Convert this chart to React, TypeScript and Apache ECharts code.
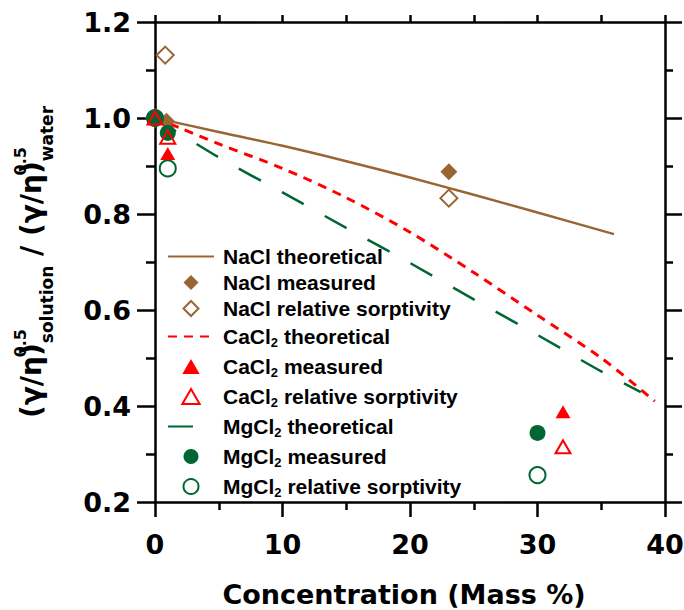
import React, { useEffect, useRef } from 'react';
import * as echarts from 'echarts';

// ---- data ----
const naclTheoX = [0, 5, 10, 15, 20, 25, 30, 36];
const naclTheoY = [1.0, 0.971, 0.942, 0.91, 0.876, 0.84, 0.803, 0.758];
const caTheoX = [0, 2, 5, 10, 15, 20, 25, 30, 35, 39.2];
const caTheoY = [1.0, 0.979, 0.946, 0.895, 0.834, 0.762, 0.678, 0.589, 0.5, 0.41];
const mgTheoX = [0, 5, 10, 15, 20, 25, 30, 35, 38.1];
const mgTheoY = [1.0, 0.918, 0.845, 0.771, 0.698, 0.622, 0.548, 0.472, 0.429];

const naclMeasuredX = [0.9, 23.05];
const naclMeasuredY = [0.993, 0.888];
const naclRelX = [0, 0.8, 23.05];
const naclRelY = [1.0, 1.131, 0.833];
const caMeasuredX = [1.0, 32.0];
const caMeasuredY = [0.926, 0.388];
const caRelX = [0, 1.0, 32.0];
const caRelY = [1.0, 0.96, 0.315];
const mgMeasuredX = [0, 1.0, 30.0];
const mgMeasuredY = [1.0, 0.969, 0.344];
const mgRelX = [0, 1.0, 30.0];
const mgRelY = [1.0, 0.895, 0.256];

const seriesNames = [
  'NaCl theoretical',
  'NaCl measured',
  'NaCl relative sorptivity',
  'CaCl2 theoretical',
  'CaCl2 measured',
  'CaCl2 relative sorptivity',
  'MgCl2 theoretical',
  'MgCl2 measured',
  'MgCl2 relative sorptivity',
];
const lineSeriesIdx = [0, 3, 6];

const xMin = 0, xMax = 40, xInterval = 10;
const yMin = 0.2, yMax = 1.2, yInterval = 0.2;

const BROWN = '#996633';
const RED = '#ff0000';
const GREEN = '#006633';

// legend icons (pixel-sized paths so the stroke is not scaled)
const DIAMOND_ICON = 'path://M7.5,0L15,7.5L7.5,15L0,7.5Z';
const TRIANGLE_ICON = 'path://M7.5,0L15,13L0,13Z';

const zip = (xs: number[], ys: number[]) => xs.map((x, i) => [x, ys[i]]);

const TICK_FONT = 'DejaVu Sans';
const LEG_FONT = 'Liberation Sans, Arial, sans-serif';

export default function App() {
  const ref = useRef<HTMLDivElement>(null);
  useEffect(() => {
    document.body.style.margin = '0';
    if (!ref.current) return;
    const chart = echarts.init(ref.current, undefined, { renderer: 'svg' });

    const legFont = { fontFamily: LEG_FONT, fontWeight: 'bold' as const, fontSize: 21, color: '#000' };
    const titleFont = { fontFamily: TICK_FONT, fontWeight: 'bold' as const, color: '#000' };

    const lineSeries = (name: string, xs: number[], ys: number[], color: string, width: number, type: any, z = 2) => ({
      name,
      type: 'line',
      data: zip(xs, ys),
      showSymbol: false,
      symbol: 'none',
      smooth: 0.3,
      color,
      lineStyle: { color, width, type },
      z,
    });
    const scatterSeries = (name: string, xs: number[], ys: number[], symbol: string, size: any, color: string, filled: boolean, z: number) => ({
      name,
      type: 'scatter',
      data: zip(xs, ys),
      symbol,
      symbolSize: size,
      color,
      itemStyle: filled
        ? { color, borderWidth: 0, opacity: 1 }
        : { color: 'rgba(0,0,0,0)', borderColor: color, borderWidth: 2, opacity: 1 },
      z,
    });

    const legendIcons: Record<number, string> = { 1: DIAMOND_ICON, 2: DIAMOND_ICON, 4: TRIANGLE_ICON, 5: TRIANGLE_ICON };

    const axisLine = { show: true, onZero: false, lineStyle: { color: '#000', width: 2.5 } };

    chart.setOption({
      animation: false,
      grid: { left: 155, right: 19, top: 22, bottom: 108, containLabel: false, outerBoundsMode: 'none' },
      legend: {
        orient: 'vertical',
        left: 167,
        top: 246,
        padding: 0,
        itemWidth: 46,
        itemHeight: 15,
        itemGap: 5,
        selectedMode: false,
        symbolKeepAspect: true,
        data: seriesNames.map((name, i) => {
          if (lineSeriesIdx.includes(i)) return { name, itemStyle: { opacity: 0 } };
          if (legendIcons[i]) return { name, icon: legendIcons[i] };
          return { name };
        }),
        itemStyle: { borderWidth: 'inherit' },
        formatter: (name: string) => {
          const m = name.match(/^(\w+?Cl)2(.*)$/);
          if (m) return `{p|${m[1]}}{s|2}{a|${m[2]}}`;
          return `{p|${name}}`;
        },
        textStyle: {
          ...legFont,
          rich: {
            p: { ...legFont, lineHeight: 16, padding: [0, 0, 0, 4] },
            a: { ...legFont, lineHeight: 16 },
            s: { ...legFont, fontSize: 13, lineHeight: 19.5, padding: [12, 0, 0, 0] },
          },
        },
      },
      xAxis: [
        {
          type: 'value',
          position: 'bottom',
          min: xMin,
          max: xMax,
          interval: xInterval,
          name: 'Concentration (Mass %)',
          nameLocation: 'middle',
          nameGap: 78,
          nameTextStyle: { ...titleFont, fontSize: 27, lineHeight: 28, padding: [0, 12, 0, 0] },
          axisLine,
          axisTick: { show: true, inside: false, length: 15, lineStyle: { color: '#000', width: 2.5 } },
          minorTick: { show: true, splitNumber: 2, length: 8, lineStyle: { color: '#000', width: 2.5 } },
          axisLabel: { show: true, margin: 29, fontFamily: TICK_FONT, fontWeight: 'bold', fontSize: 27, color: '#000' },
          splitLine: { show: false },
        },
        {
          type: 'value',
          position: 'top',
          min: xMin,
          max: xMax,
          interval: xInterval,
          axisLine,
          axisTick: { show: true, inside: false, length: 7, lineStyle: { color: '#000', width: 2.5 } },
          minorTick: { show: true, splitNumber: 2, length: 7, lineStyle: { color: '#000', width: 2.5 } },
          axisLabel: { show: false },
          splitLine: { show: false },
        },
      ],
      yAxis: [
        {
          type: 'value',
          position: 'left',
          min: yMin,
          max: yMax,
          interval: yInterval,
          name: '{m|(γ/η)}{sup|0.5}{sub|solution}{m| / (γ/η)}{sup|0.5}{sub|water}',
          nameLocation: 'middle',
          nameGap: 100,
          nameTextStyle: {
            ...titleFont,
            fontSize: 28,
            rich: {
              m: { ...titleFont, fontSize: 28, lineHeight: 48 },
              sup: { ...titleFont, fontSize: 16, lineHeight: 16, verticalAlign: 'top', padding: [5, 0, 0, 0], width: 0 },
              sub: { ...titleFont, fontSize: 17, lineHeight: 17, verticalAlign: 'bottom' },
            },
          },
          axisLine,
          axisTick: { show: true, inside: false, length: 18, lineStyle: { color: '#000', width: 2.5 } },
          minorTick: { show: true, splitNumber: 2, length: 9, lineStyle: { color: '#000', width: 2.5 } },
          axisLabel: {
            show: true,
            margin: 24,
            fontFamily: TICK_FONT,
            fontWeight: 'bold',
            fontSize: 27,
            color: '#000',
            formatter: (v: number) => v.toFixed(1),
          },
          splitLine: { show: false },
        },
        {
          type: 'value',
          position: 'right',
          min: yMin,
          max: yMax,
          interval: yInterval,
          axisLine,
          axisTick: { show: true, inside: false, length: 17, lineStyle: { color: '#000', width: 2.5 } },
          minorTick: { show: true, splitNumber: 2, length: 8, lineStyle: { color: '#000', width: 2.5 } },
          axisLabel: { show: false },
          splitLine: { show: false },
        },
      ],
      series: [
        lineSeries(seriesNames[0], naclTheoX, naclTheoY, BROWN, 2.5, 'solid'),
        scatterSeries(seriesNames[1], naclMeasuredX, naclMeasuredY, 'diamond', 17, BROWN, true, 3),
        scatterSeries(seriesNames[2], naclRelX, naclRelY, 'diamond', 17, BROWN, false, 3),
        lineSeries(seriesNames[3], caTheoX, caTheoY, RED, 3, [9, 7]),
        scatterSeries(seriesNames[4], caMeasuredX, caMeasuredY, 'triangle', [15, 13], RED, true, 5),
        scatterSeries(seriesNames[5], caRelX, caRelY, 'triangle', [15, 13], RED, false, 6),
        lineSeries(seriesNames[6], mgTheoX, mgTheoY, GREEN, 2.5, [25, 24]),
        scatterSeries(seriesNames[7], mgMeasuredX, mgMeasuredY, 'circle', 16, GREEN, true, 4),
        scatterSeries(seriesNames[8], mgRelX, mgRelY, 'circle', 16, GREEN, false, 3),
      ],
    });
    return () => chart.dispose();
  }, []);
  return <div ref={ref} style={{ position: 'absolute', left: 0, top: 0, width: 684, height: 610 }} />;
}
